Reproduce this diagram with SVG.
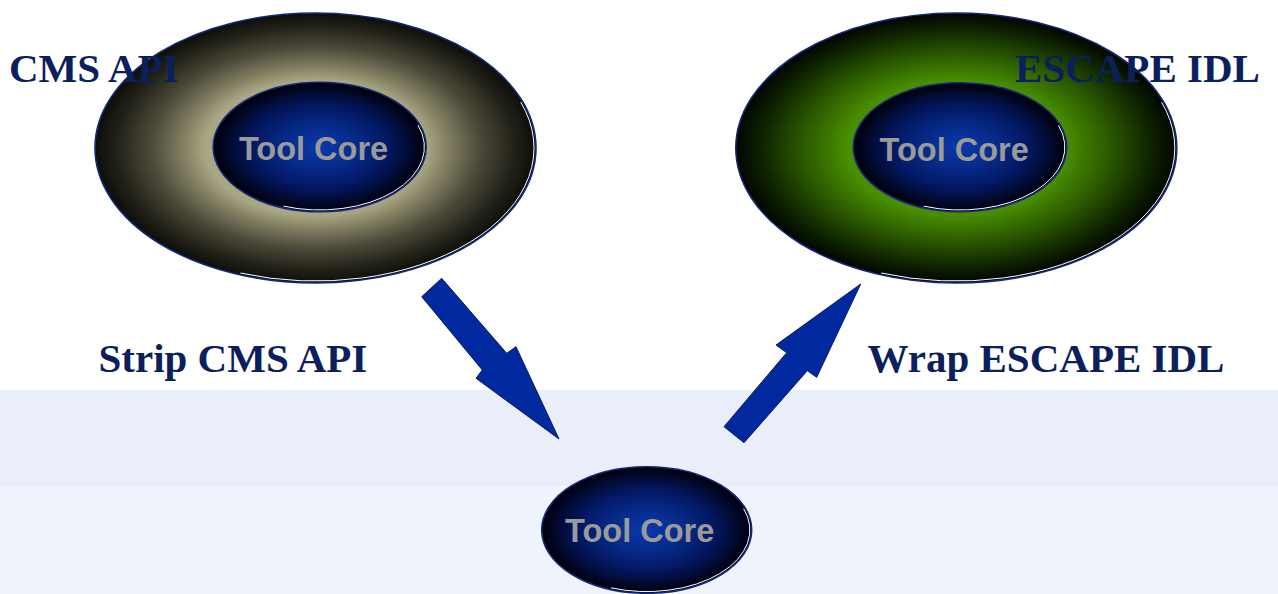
<svg xmlns="http://www.w3.org/2000/svg" xmlns:xlink="http://www.w3.org/1999/xlink" width="1278" height="594" viewBox="0 0 1278 594">
  <style>
    .label { font-family: "Liberation Serif", "Times New Roman", serif; font-weight: bold; font-size: 41px; fill: #0b1f5c; }
    .core { font-family: "Liberation Sans", Arial, sans-serif; font-weight: bold; font-size: 32.5px; fill: #9a9a9a; text-anchor: middle; }
    .rim { fill: none; stroke: #13287a; stroke-width: 1.6; }
    .shine { fill: none; stroke: #ffffff; stroke-width: 1; stroke-linecap: round; }
    .arrow { fill: #0029a0; stroke: #0a1a5e; stroke-width: 1; stroke-linejoin: miter; }
  </style>
  <defs>
    <radialGradient id="khaki" cx="50%" cy="50%" r="50%">
      <stop offset="0" stop-color="#b0ae88"/>
      <stop offset="0.5" stop-color="#a9a782"/>
      <stop offset="0.6" stop-color="#827f62"/>
      <stop offset="0.75" stop-color="#4a4938"/>
      <stop offset="0.9" stop-color="#232219"/>
      <stop offset="1" stop-color="#0d0d09"/>
    </radialGradient>
    <radialGradient id="green" cx="50%" cy="50%" r="50%">
      <stop offset="0" stop-color="#4c9800"/>
      <stop offset="0.5" stop-color="#488e00"/>
      <stop offset="0.7" stop-color="#2a5800"/>
      <stop offset="0.88" stop-color="#0f2400"/>
      <stop offset="1" stop-color="#010500"/>
    </radialGradient>
    <radialGradient id="core" cx="50%" cy="50%" r="50%">
      <stop offset="0" stop-color="#0a38ac"/>
      <stop offset="0.35" stop-color="#062a88"/>
      <stop offset="0.65" stop-color="#031760"/>
      <stop offset="0.88" stop-color="#010828"/>
      <stop offset="1" stop-color="#00000a"/>
    </radialGradient>
    <!-- unit arc along the lower right of an ellipse, scaled per shape -->
    <path id="hl" d="M 0.9397 -0.342 A 1 1 0 0 1 -0.342 0.9397" vector-effect="non-scaling-stroke"/>
  </defs>

  <!-- background bands -->
  <rect x="0" y="0" width="1278" height="594" fill="#ffffff"/>
  <rect x="0" y="390" width="1278" height="96" fill="#eaeefa"/>
  <rect x="0" y="486" width="1278" height="108" fill="#eff3fc"/>

  <!-- CMS API wrapped tool -->
  <g id="cms-tool">
    <ellipse cx="315.5" cy="148" rx="220.5" ry="135" fill="url(#khaki)"/>
    <use xlink:href="#hl" class="shine" transform="translate(315.5 148) scale(218.6 133.1)"/>
    <ellipse class="rim" cx="315.5" cy="148" rx="220.5" ry="135"/>
    <ellipse cx="319.7" cy="147" rx="106.5" ry="64.7" fill="url(#core)"/>
    <use xlink:href="#hl" class="shine" transform="translate(319.7 147) scale(104.8 63)"/>
    <ellipse class="rim" cx="319.7" cy="147" rx="106.5" ry="64.7"/>
    <text class="core" x="313.5" y="160">Tool Core</text>
  </g>

  <!-- ESCAPE IDL wrapped tool -->
  <g id="escape-tool">
    <ellipse cx="956.3" cy="148" rx="220.5" ry="135" fill="url(#green)"/>
    <use xlink:href="#hl" class="shine" transform="translate(956.3 148) scale(218.6 133.1)"/>
    <ellipse class="rim" cx="956.3" cy="148" rx="220.5" ry="135"/>
    <ellipse cx="960" cy="147.2" rx="106.7" ry="64.5" fill="url(#core)"/>
    <use xlink:href="#hl" class="shine" transform="translate(960 147.2) scale(105 62.8)"/>
    <ellipse class="rim" cx="960" cy="147.2" rx="106.7" ry="64.5"/>
    <text class="core" x="954.2" y="161">Tool Core</text>
  </g>

  <!-- bare tool core -->
  <g id="bare-core">
    <ellipse cx="646.7" cy="530" rx="105" ry="63.3" fill="url(#core)"/>
    <use xlink:href="#hl" class="shine" transform="translate(646.7 530) scale(103.3 61.6)"/>
    <ellipse class="rim" cx="646.7" cy="530" rx="105" ry="63.3"/>
    <text class="core" x="639.7" y="542.3">Tool Core</text>
  </g>

  <!-- transformation arrows -->
  <g id="connectors">
    <polygon class="arrow" points="421.7,296.7 441.7,278.3 506.7,353.3 516,346.7 559,439 476,378.3 482.3,370"/>
    <polygon class="arrow" points="724,426.7 744,442.7 807.3,370.7 816.7,377.3 860.7,284 776,345 786.7,352.7"/>
  </g>

  <!-- labels -->
  <g id="labels">
    <text class="label" x="9" y="81.7">CMS API</text>
    <text class="label" x="1015" y="82">ESCAPE IDL</text>
    <text class="label" x="98.5" y="371.7">Strip CMS API</text>
    <text class="label" x="867.5" y="371.7">Wrap ESCAPE IDL</text>
  </g>
</svg>
